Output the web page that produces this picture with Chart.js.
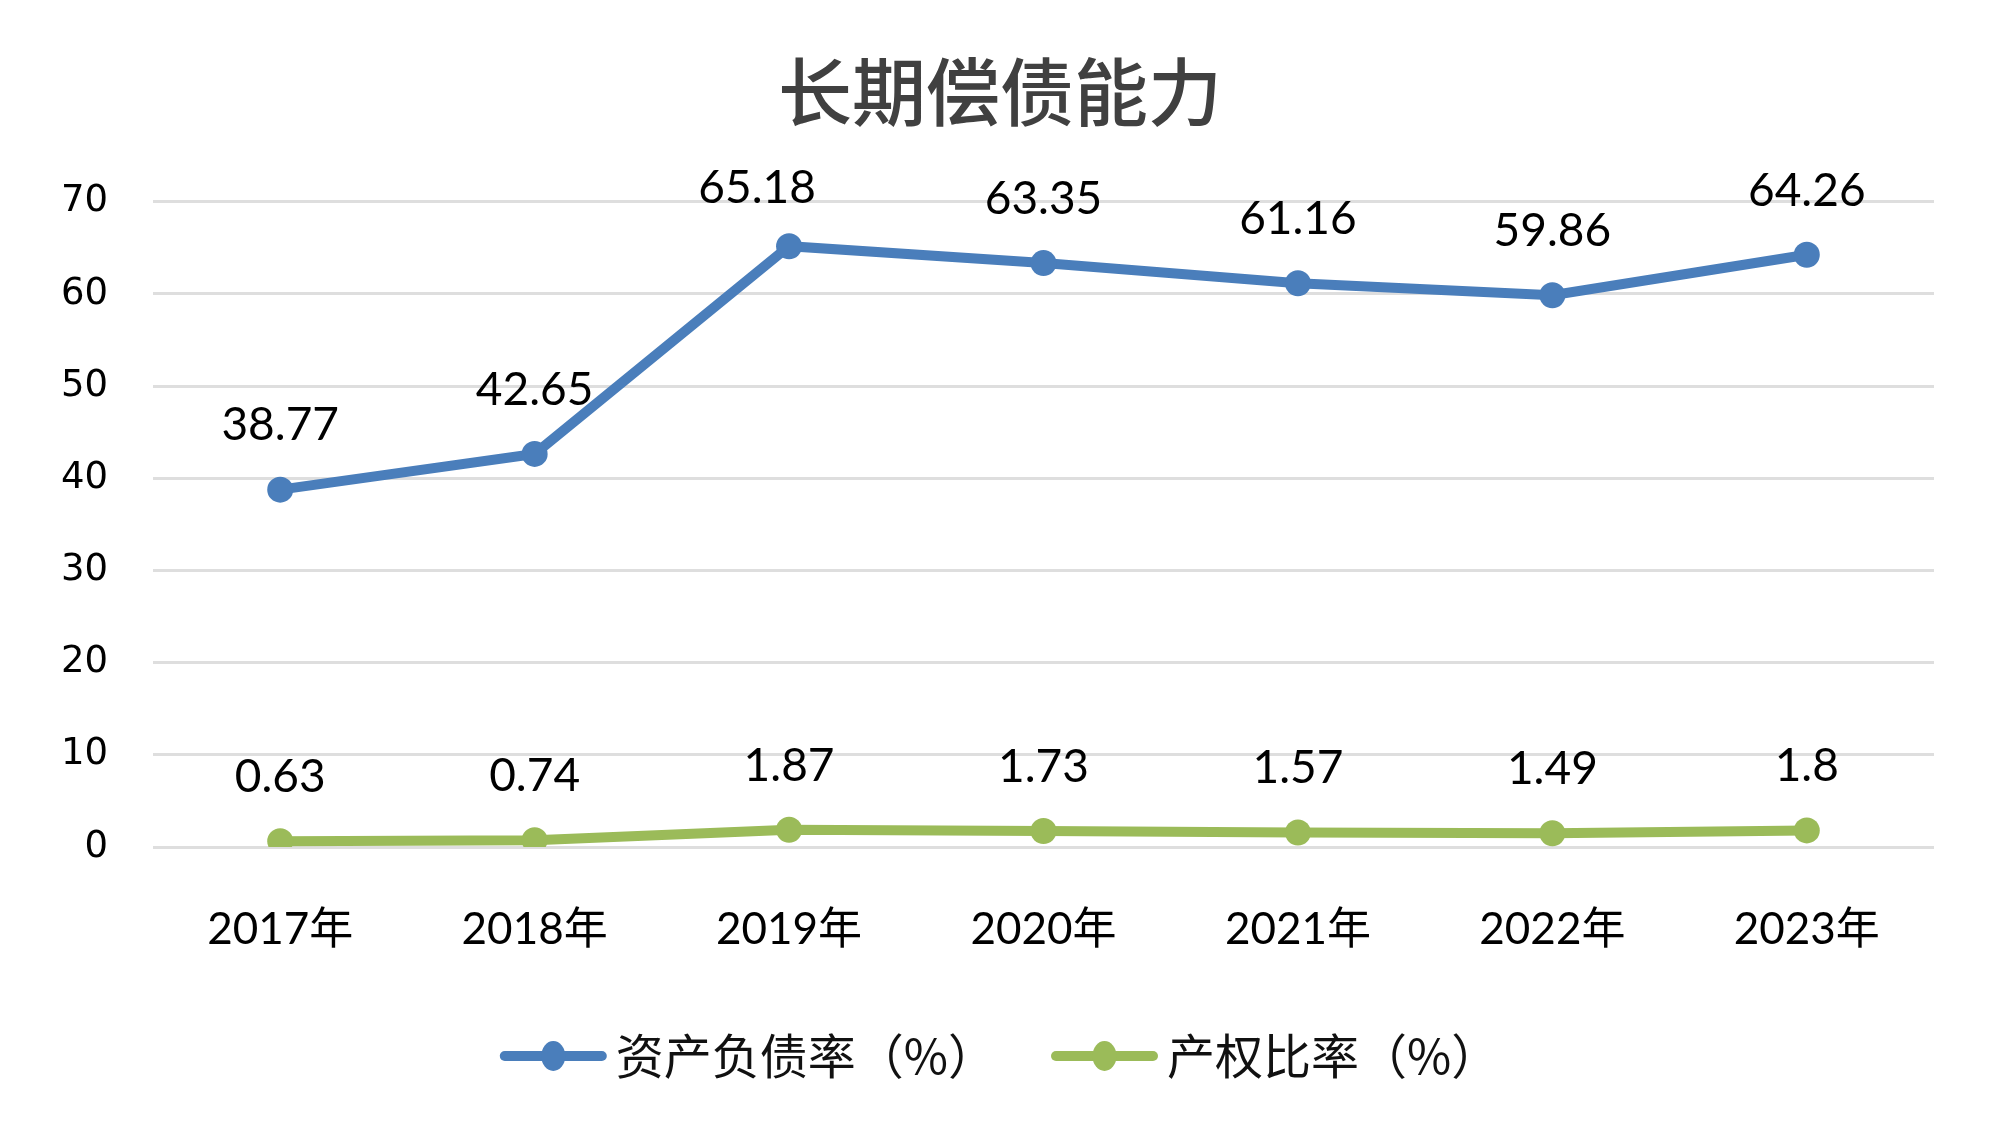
<!DOCTYPE html>
<html>
<head>
<meta charset="utf-8">
<script src="https://cdn.jsdelivr.net/npm/chart.js@4.4.1/dist/chart.umd.min.js"></script>
<style>
  html, body { margin: 0; padding: 0; background: #fff; }
  #wrap { width: 2000px; height: 1143px; }
</style>
</head>
<body>
<div id="wrap"><canvas id="chart" width="2000" height="1143"></canvas></div>
<script>
// ── Data ────────────────────────────────────────────────────
const years = ['2017年', '2018年', '2019年', '2020年', '2021年', '2022年', '2023年'];
const debtRatio = [38.77, 42.65, 65.18, 63.35, 61.16, 59.86, 64.26];   // 资产负债率（%）
const equityRatio = [0.63, 0.74, 1.87, 1.73, 1.57, 1.49, 1.8];         // 产权比率（%）
const yMin = 0, yMax = 70, yStep = 10;

const BLUE = '#4a7ebb';
const GREEN = '#9bbb59';
const LATIN = 'Lato, "Noto Sans CJK SC", sans-serif';
const CJK = '"Noto Sans CJK SC", sans-serif';

// value labels above each point (one label was hand-moved in the original)
const labelNudge = { '0-2': [-32, 6] };
const valueLabels = {
    id: 'valueLabels',
    afterDatasetsDraw(chart) {
        const ctx = chart.ctx;
        ctx.save();
        ctx.font = '46px ' + LATIN;
        ctx.fillStyle = '#000';
        ctx.textAlign = 'center';
        ctx.textBaseline = 'middle';
        chart.data.datasets.forEach((ds, i) => {
            chart.getDatasetMeta(i).data.forEach((pt, j) => {
                const n = labelNudge[i + '-' + j] || [0, 0];
                ctx.fillText(String(ds.data[j]), pt.x + n[0], pt.y - 64 + n[1]);
            });
        });
        ctx.restore();
    }
};

// Excel-style legend: line + dot marker, then text
const lineLegend = {
    id: 'lineLegend',
    afterDraw(chart) {
        const ctx = chart.ctx;
        const y = 1056, lineW = 105, gapText = 10, gapItem = 56;
        ctx.save();
        ctx.font = '48px ' + CJK;
        const items = chart.data.datasets.map(ds => ({
            ds, tw: ctx.measureText(ds.label).width
        }));
        const total = items.reduce((s, it) => s + lineW + gapText + it.tw, 0)
            + gapItem * (items.length - 1);
        let x = chart.width / 2 - total / 2;
        items.forEach(it => {
            ctx.strokeStyle = it.ds.borderColor;
            ctx.lineWidth = 10;
            ctx.lineCap = 'round';
            ctx.beginPath();
            ctx.moveTo(x + 4, y);
            ctx.lineTo(x + lineW - 4, y);
            ctx.stroke();
            ctx.fillStyle = it.ds.borderColor;
            ctx.beginPath();
            ctx.ellipse(x + lineW / 2, y, 12, 15, 0, 0, Math.PI * 2);
            ctx.fill();
            ctx.fillStyle = '#111';
            ctx.textAlign = 'left';
            ctx.textBaseline = 'middle';
            ctx.fillText(it.ds.label, x + lineW + gapText, y);
            x += lineW + gapText + it.tw + gapItem;
        });
        ctx.restore();
    }
};

new Chart(document.getElementById('chart'), {
    type: 'line',
    data: {
        labels: years,
        datasets: [
            {
                label: '资产负债率（%）',
                data: debtRatio,
                borderColor: BLUE,
                backgroundColor: BLUE,
                pointBackgroundColor: BLUE,
                borderWidth: 10,
                pointRadius: 13,
                pointBorderWidth: 0,
                tension: 0,
            },
            {
                label: '产权比率（%）',
                data: equityRatio,
                borderColor: GREEN,
                backgroundColor: GREEN,
                pointBackgroundColor: GREEN,
                borderWidth: 10,
                pointRadius: 13,
                pointBorderWidth: 0,
                tension: 0,
            },
        ],
    },
    options: {
        responsive: false,
        devicePixelRatio: 1,
        animation: false,
        layout: { padding: { left: 33, right: 33, top: 0, bottom: 0 } },
        plugins: {
            legend: { display: false },
            tooltip: { enabled: false },
            title: {
                display: true,
                text: '长期偿债能力',
                color: '#404040',
                font: { family: CJK, size: 74, weight: '500', lineHeight: 1.2 },
                padding: { top: 47, bottom: 66 },
            },
        },
        scales: {
            x: {
                offset: true,
                grid: { display: false, drawTicks: false },
                border: { display: false },
                ticks: {
                    color: '#000',
                    font: { family: LATIN, size: 44 },
                    padding: 56,
                    maxRotation: 0,
                },
                afterFit: s => { s.height = 296; },
            },
            y: {
                min: yMin,
                max: yMax,
                ticks: {
                    stepSize: yStep,
                    color: '#000',
                    font: { family: '"DejaVu Sans", sans-serif', size: 37 },
                    padding: 45,
                },
                grid: { color: '#dedede', lineWidth: 3, drawTicks: false },
                border: { display: false },
                afterFit: s => { s.width = 120; },
            },
            // empty right gutter so the plot ends where the original does
            yGutter: {
                position: 'right',
                min: yMin,
                max: yMax,
                grid: { display: false, drawTicks: false },
                border: { display: false },
                ticks: { display: false },
                afterFit: s => { s.width = 33; },
            },
        },
    },
    plugins: [valueLabels, lineLegend],
});
</script>
</body>
</html>
